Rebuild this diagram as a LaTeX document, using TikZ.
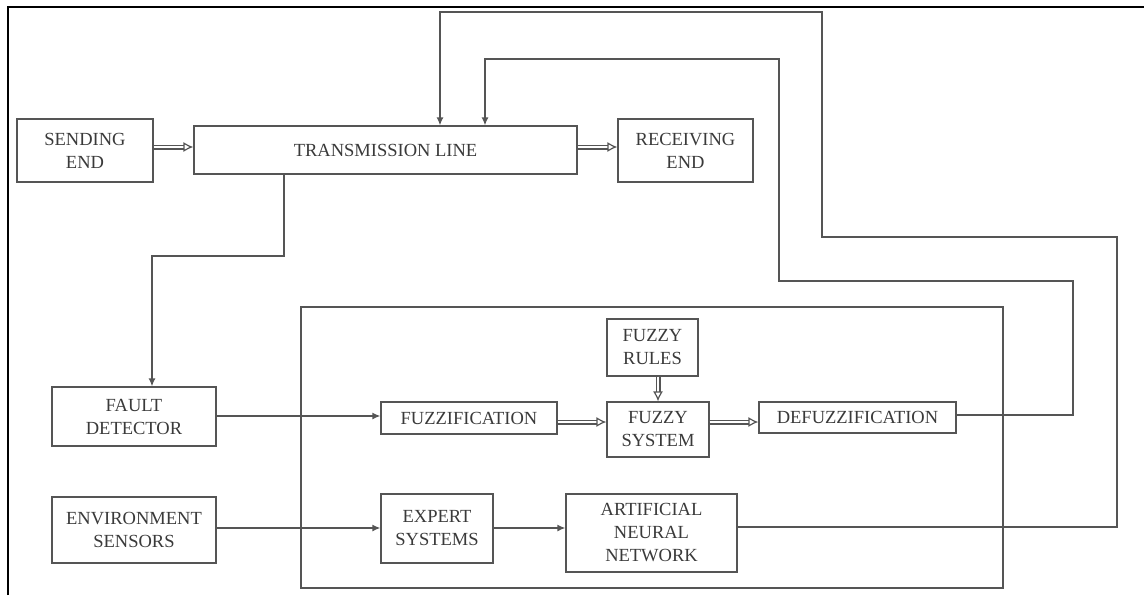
\documentclass[tikz,border=0pt]{standalone}
\usepackage{fontspec}
\setmainfont{Liberation Serif}
\usetikzlibrary{arrows.meta}
\definecolor{linec}{HTML}{555555}
\definecolor{txtc}{HTML}{3A3A3A}
\begin{document}
\begin{tikzpicture}[x=1pt,y=-1pt,
  box/.style={draw=linec, line width=1.3pt, fill=white, inner sep=0pt, align=center,
    font=\fontsize{18.5}{23}\selectfont, text=txtc},
  link/.style={draw=linec, line width=1.3pt, -{Latex[length=8pt,width=7pt]}},
  dbl/.style={draw=linec, double=white, double distance=2.6pt, line width=1.2pt,
    -{Latex[open,length=10pt,width=10pt]}},
  frame/.style={draw=black, line width=2pt}]
\useasboundingbox (0,0) rectangle (1144,595);
\fill[white] (0,0) rectangle (1144,595);
\draw[frame] (8,595) -- (8,7) -- (1144,7);

\node[box, minimum width=702pt, minimum height=281pt] (sys) at (652,447.5) {};

\node[box, minimum width=136pt, minimum height=63pt] (send) at (85,150.5) {SENDING\\END};
\node[box, minimum width=383pt, minimum height=48pt] (tl) at (385.5,150) {TRANSMISSION LINE};
\node[box, minimum width=135pt, minimum height=63pt] (recv) at (685.5,150.5) {RECEIVING\\END};
\node[box, minimum width=164pt, minimum height=59pt] (fault) at (134,416.5) {FAULT\\DETECTOR};
\node[box, minimum width=164pt, minimum height=66pt] (env) at (134,530) {ENVIRONMENT\\SENSORS};
\node[box, minimum width=176pt, minimum height=32pt] (fuzz) at (469,418) {FUZZIFICATION};
\node[box, minimum width=112pt, minimum height=69pt] (expert) at (437,528.5) {EXPERT\\SYSTEMS};
\node[box, minimum width=171pt, minimum height=78pt] (ann) at (651.5,533) {ARTIFICIAL\\NEURAL\\NETWORK};
\node[box, minimum width=91pt, minimum height=57pt] (rules) at (652.5,347.5) {FUZZY\\RULES};
\node[box, minimum width=102pt, minimum height=55pt] (fsys) at (658,429.5) {FUZZY\\SYSTEM};
\node[box, minimum width=197pt, minimum height=31pt] (defuzz) at (857.5,417.5) {DEFUZZIFICATION};

\draw[dbl] (send.east |- 0,147) -- (tl.west |- 0,147);
\draw[dbl] (tl.east |- 0,147) -- (recv.west |- 0,147);
\draw[link] (tl.south -| 284,0) -- (284,256) -| (fault.north -| 152,0);
\draw[link] (fault.east |- 0,416) -- (fuzz.west |- 0,416);
\draw[link] (env.east |- 0,528) -- (expert.west |- 0,528);
\draw[link] (expert.east |- 0,528) -- (ann.west |- 0,528);
\draw[dbl] (fuzz.east |- 0,422) -- (fsys.west |- 0,422);
\draw[dbl] (fsys.east |- 0,422) -- (defuzz.west |- 0,422);
\draw[dbl] (rules.south -| 658,0) -- (fsys.north -| 658,0);
\draw[link] (defuzz.east |- 0,415) -| (1073,281) -| (779,59) -| (tl.north -| 485,0);
\draw[link] (ann.east |- 0,527) -| (1117,237) -| (822,12) -| (tl.north -| 440,0);
\end{tikzpicture}
\end{document}
